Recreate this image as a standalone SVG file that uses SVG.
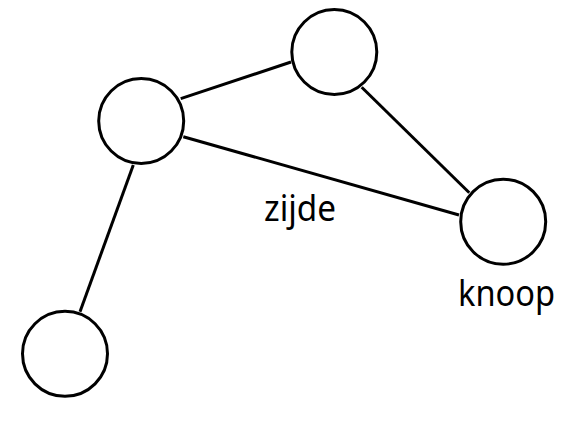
<svg xmlns="http://www.w3.org/2000/svg" width="581" height="421" viewBox="0 0 581 421">
<style>
.n{fill:#fff;stroke:#000;stroke-width:3}
.e{stroke:#000;stroke-width:3;fill:none}
.t{font-family:"Noto Sans","Open Sans",sans-serif;font-size:36px;fill:#000}
</style>
<rect width="581" height="421" fill="#fff"/>
<g id="edges">
<line class="e" x1="180.7" y1="98.7" x2="291" y2="62"/>
<line class="e" x1="183.3" y1="136.7" x2="459" y2="215"/>
<line class="e" x1="361.7" y1="87.3" x2="469.3" y2="192.7"/>
<line class="e" x1="133.3" y1="165" x2="80" y2="311.7"/>
</g>
<g id="node-left"><circle class="n" cx="141.2" cy="121" r="42.5"/></g>
<g id="node-top"><circle class="n" cx="334.3" cy="52" r="42.5"/></g>
<g id="node-right"><circle class="n" cx="503.2" cy="221.7" r="42.5"/></g>
<g id="node-bottom"><circle class="n" cx="65" cy="353.8" r="42.5"/></g>
<g id="label-zijde"><text class="t" x="264" y="221" textLength="72" lengthAdjust="spacingAndGlyphs">zijde</text></g>
<g id="label-knoop"><text class="t" x="458" y="306" textLength="97" lengthAdjust="spacingAndGlyphs">knoop</text></g>
</svg>
